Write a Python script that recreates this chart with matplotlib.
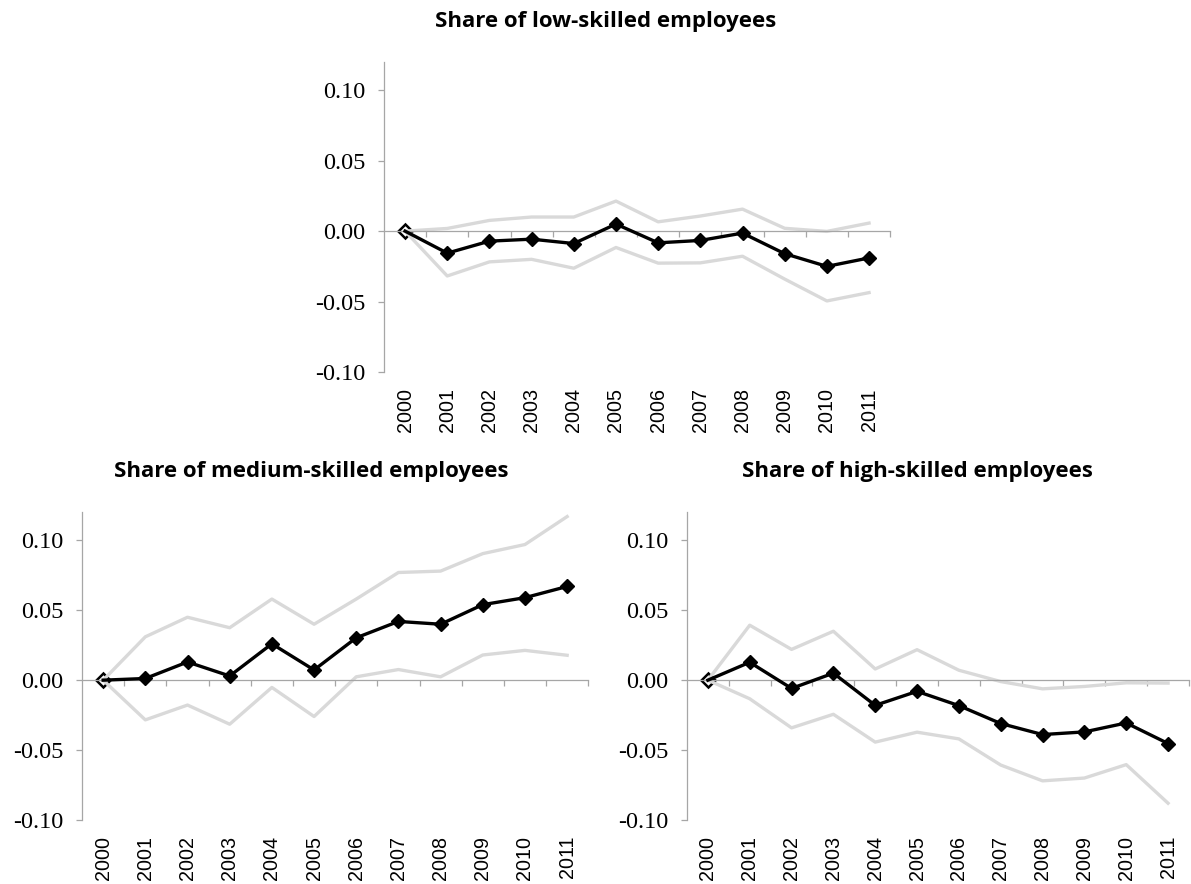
import matplotlib.pyplot as plt
import numpy as np

years = ['2000', '2001', '2002', '2003', '2004', '2005',
         '2006', '2007', '2008', '2009', '2010', '2011']

# low-skilled
low_est = [0.0, -0.0156, -0.0071, -0.0057, -0.0088, 0.0050,
           -0.0083, -0.0066, -0.0014, -0.0160, -0.0250, -0.0190]
low_hi = [0.0, 0.0019, 0.0076, 0.0100, 0.0100, 0.0213,
          0.0066, 0.0107, 0.0156, 0.0020, -0.0002, 0.0057]
low_lo = [0.0, -0.0318, -0.0218, -0.0200, -0.0263, -0.0116,
          -0.0227, -0.0225, -0.0178, -0.0340, -0.0495, -0.0436]

# medium-skilled
med_est = [0.0, 0.0012, 0.0130, 0.0030, 0.0260, 0.0073,
           0.0303, 0.0420, 0.0400, 0.0540, 0.0590, 0.0670]
med_hi = [0.0, 0.0310, 0.0450, 0.0375, 0.0580, 0.0400,
          0.0580, 0.0770, 0.0780, 0.0905, 0.0970, 0.1170]
med_lo = [0.0, -0.0284, -0.0178, -0.0315, -0.0052, -0.0260,
          0.0024, 0.0076, 0.0024, 0.0180, 0.0213, 0.0178]

# high-skilled
high_est = [0.0, 0.0128, -0.0059, 0.0050, -0.0180, -0.0080,
            -0.0182, -0.0310, -0.0389, -0.0370, -0.0306, -0.0453]
high_hi = [0.0, 0.0393, 0.0220, 0.0350, 0.0080, 0.0218,
           0.0071, -0.0010, -0.0062, -0.0045, -0.0019, -0.0021]
high_lo = [0.0, -0.0133, -0.0341, -0.0244, -0.0443, -0.0372,
           -0.0420, -0.0607, -0.0720, -0.0700, -0.0604, -0.0880]

yticks = [-0.10, -0.05, 0.00, 0.05, 0.10]

fig = plt.figure(figsize=(11.91, 8.84), dpi=100)

panels = [
    ([0.3224, 0.579, 0.425, 0.351], low_est, low_hi, low_lo),
    ([0.0689, 0.0724, 0.425, 0.348], med_est, med_hi, med_lo),
    ([0.5768, 0.0724, 0.4215, 0.348], high_est, high_hi, high_lo),
]

spine_col = '#A6A6A6'
x = np.arange(len(years))

for rect, est, hi, lo in panels:
    ax = fig.add_axes(rect)
    ax.plot(x, hi, color='#D9D9D9', lw=2.4, zorder=2)
    ax.plot(x, lo, color='#D9D9D9', lw=2.4, zorder=2)
    ax.plot(x, est, color='black', lw=2.4, marker='D', ms=7.5,
            markevery=list(range(1, len(x))), zorder=3)
    ax.plot(x[:1], est[:1], color='black', marker='D', ms=7.5, mfc='white',
            mew=1.8, ls='none', zorder=1.5)

    ax.set_xlim(-0.5, len(x) - 0.5)
    ax.set_ylim(-0.10, 0.12)
    ax.set_yticks(yticks)
    ax.set_yticklabels(['%.2f' % v for v in yticks],
                       family='Liberation Serif', fontsize=17.5)
    ax.tick_params(axis='y', direction='out', length=4.5, width=0.9,
                   color=spine_col, pad=9)

    for s in ['top', 'right']:
        ax.spines[s].set_visible(False)
    ax.spines['left'].set_color(spine_col)
    ax.spines['left'].set_linewidth(0.9)
    ax.spines['bottom'].set_position(('data', 0))
    ax.spines['bottom'].set_color(spine_col)
    ax.spines['bottom'].set_linewidth(0.9)
    ax.set_xticks(x + 0.5)
    ax.set_xticklabels([])
    ax.tick_params(axis='x', direction='out', length=4.5, width=0.9,
                   color=spine_col)

    sec = ax.secondary_xaxis(0.0)
    sec.set_xticks(x)
    sec.set_xticklabels(years, rotation=90, family='Liberation Sans',
                        fontsize=14.2)
    sec.tick_params(length=0, pad=11.5)
    sec.spines['bottom'].set_visible(False)

title_kw = dict(fontsize=16, fontweight='bold', family='Open Sans',
                ha='center', va='center')
fig.text(606 / 1191, 1 - 21 / 884, 'Share of low-skilled employees', **title_kw)
fig.text(311 / 1191, 1 - 471 / 884, 'Share of medium-skilled employees', **title_kw)
fig.text(917 / 1191, 1 - 471 / 884, 'Share of high-skilled employees', **title_kw)

fig.savefig('out.png', dpi=100)
